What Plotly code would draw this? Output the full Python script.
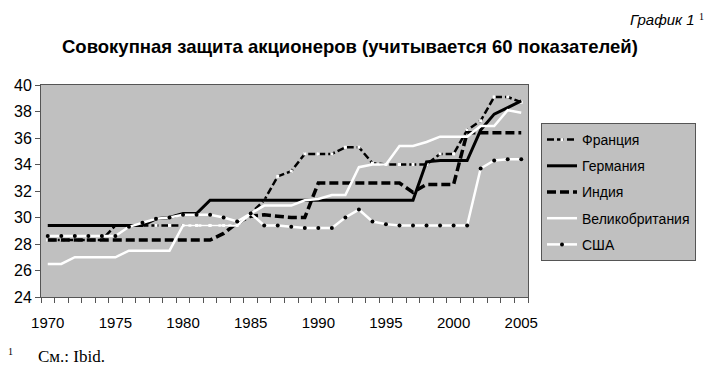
import plotly.graph_objects as go

years = list(range(1970, 2006))

france = [28.3]*5 + [29.4]*10 + [30.3, 31.3, 33.1, 33.5, 34.8, 34.8, 34.8, 35.3, 35.3, 34.1,
                                  34.0, 34.0, 34.0, 34.0, 34.8, 34.8, 36.6, 37.3, 39.1, 39.1, 38.7]
germany = [29.4]*8 + [29.9, 30.0, 30.3, 30.3] + [31.3]*16 + [34.2, 34.3, 34.3, 34.3, 36.6, 37.8, 38.3, 38.8]
india = [28.3]*13 + [28.8, 29.6, 30.1, 30.2, 30.1, 30.0, 30.0] + [32.6]*7 + [31.9, 32.5, 32.5, 32.5] + [36.4]*5
uk = [26.5, 26.5, 27.0, 27.0, 27.0, 27.0, 27.5, 27.5, 27.5, 27.5] + [29.4]*5 + \
     [30.3, 30.9, 30.9, 30.9, 31.3, 31.4, 31.7, 31.7, 33.8, 34.0, 34.0, 35.4, 35.4, 35.7,
      36.1, 36.1, 36.1, 36.9, 36.9, 38.1, 37.9]
usa = [28.6]*6 + [29.3, 29.6, 29.9, 30.0, 30.2, 30.2, 30.2, 30.0, 29.7, 30.3, 29.4, 29.4, 29.3,
                  29.2, 29.2, 29.2, 30.0, 30.6, 29.7, 29.5] + [29.4]*6 + [33.7, 34.3, 34.4, 34.4]

names = ["Франция", "Германия", "Индия", "Великобритания", "США"]
x_ticks = [1970, 1975, 1980, 1985, 1990, 1995, 2000, 2005]
y_ticks = [24, 26, 28, 30, 32, 34, 36, 38, 40]

title = "Совокупная защита акционеров (учитывается 60 показателей)"

FONT = "Liberation Sans, Arial, sans-serif"
SERIF = "Liberation Serif, serif"
BG = "#c0c0c0"
AX = "#555555"

fig = go.Figure()
fig.add_trace(go.Scatter(x=years, y=france, name=names[0], legendgroup="a",
                         mode="lines+markers",
                         line=dict(color="black", width=2.5, dash="7px,3px"),
                         marker=dict(symbol="square", size=3, color="white", line=dict(width=0))))
fig.add_trace(go.Scatter(x=years, y=germany, name=names[1], legendgroup="b", mode="lines",
                         line=dict(color="black", width=3)))
fig.add_trace(go.Scatter(x=years, y=india, name=names[2], legendgroup="c", mode="lines",
                         line=dict(color="black", width=3.5, dash="9px,4px")))
fig.add_trace(go.Scatter(x=years, y=uk, name=names[3], legendgroup="d", mode="lines",
                         line=dict(color="white", width=2.5)))
fig.add_trace(go.Scatter(x=years, y=usa, name=names[4], legendgroup="e", mode="lines+markers",
                         line=dict(color="white", width=2.5),
                         marker=dict(symbol="circle", size=4, color="black", line=dict(width=0))))

# the page body adds an 8px margin, so the figure is laid out 8px in from the window
OFF = 8
W, H = 715 - OFF, 370 - OFF
L, R, T, B = 41 - OFF, 528 - OFF, 85 - OFF, 297 - OFF
pw, ph = R - L, B - T

def px(x):
    return (x - OFF - L) / pw

def py(y):
    return (B - (y - OFF)) / ph

fig.update_layout(
    width=W, height=H,
    margin=dict(l=L, r=W - R, t=T, b=H - B, pad=0, autoexpand=False),
    paper_bgcolor="white",
    plot_bgcolor=BG,
    font=dict(family=FONT, color="black"),
    showlegend=True,
    legend=dict(x=px(541), y=py(123), xanchor="left", yanchor="top",
                bgcolor=BG, bordercolor=AX, borderwidth=1,
                font=dict(size=14, family=FONT), tracegroupgap=5,
                itemwidth=30),
    xaxis=dict(range=[1969.5, 2005.5], tickmode="array", tickvals=x_ticks,
               ticktext=[str(v) for v in x_ticks], ticks="", showgrid=False, zeroline=False,
               showline=True, linecolor=AX, linewidth=1, mirror=True,
               tickfont=dict(size=15, family=FONT), ticklabelstandoff=12,
               minor=dict(tickmode="linear", tick0=1969.5, dtick=1, ticks="outside",
                          ticklen=5, tickcolor=AX, showgrid=False)),
    yaxis=dict(range=[24, 40], tickmode="array", tickvals=y_ticks, ticks="outside",
               ticklen=5, tickcolor=AX, showgrid=False, zeroline=False,
               showline=True, linecolor=AX, linewidth=1, mirror=True,
               tickfont=dict(size=16, family=FONT)),
)

fig.add_annotation(text="<b>" + title + "</b>", xref="paper", yref="paper",
                   x=px(350), y=py(46), xanchor="center", yanchor="middle",
                   showarrow=False, font=dict(size=18.5, family=FONT))
fig.add_annotation(text="<i>График 1</i>", xref="paper", yref="paper",
                   x=px(697), y=py(9), xanchor="right", yanchor="top",
                   showarrow=False, font=dict(size=15, family=FONT))
fig.add_annotation(text="1", xref="paper", yref="paper",
                   x=px(697), y=py(9), xanchor="left", yanchor="top",
                   showarrow=False, font=dict(size=10, family=SERIF))
fig.add_annotation(text="1", xref="paper", yref="paper",
                   x=px(6), y=py(351), xanchor="left", yanchor="middle",
                   showarrow=False, font=dict(size=10, family=SERIF))
fig.add_annotation(text="См.: Ibid.", xref="paper", yref="paper",
                   x=px(36), y=py(356), xanchor="left", yanchor="middle",
                   showarrow=False, font=dict(size=17, family=SERIF))

fig.write_html("out.html")
